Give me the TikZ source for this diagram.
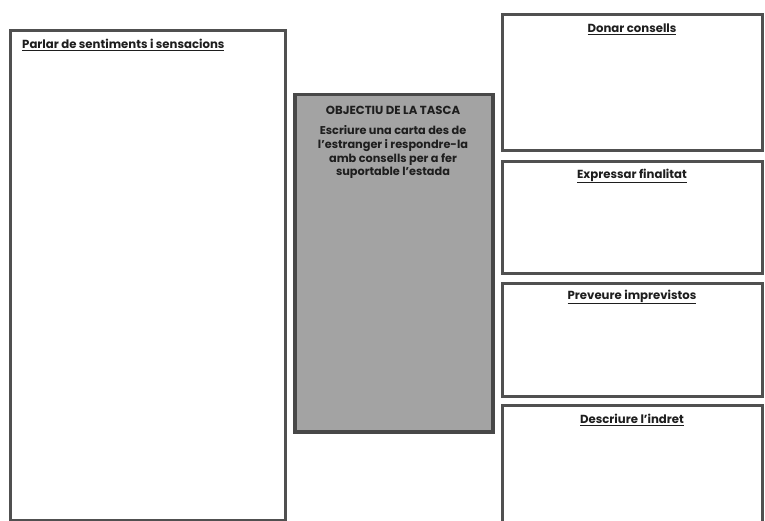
\documentclass[tikz,border=0pt]{standalone}
\usepackage{fontspec}
\setmainfont{Poppins}
\definecolor{edge}{HTML}{505050}
\definecolor{midfill}{HTML}{A3A3A3}
\definecolor{txt}{HTML}{1E1E1E}
\begin{document}
\begin{tikzpicture}[x=1pt,y=-1pt,
  panel/.style={draw=edge,line width=3pt,fill=white,anchor=north west,inner sep=0pt},
  goal/.style={draw=edge!90!black,line width=3.5pt,fill=midfill,anchor=north west,inner sep=0pt},
  head/.style={font=\fontsize{11.7}{13}\selectfont\bfseries,text=txt,inner sep=0pt},
  body/.style={font=\fontsize{11.3}{13.9}\selectfont\bfseries,text=txt,inner sep=0pt,align=center}]
\useasboundingbox (0,0) rectangle (765,521);
% panels
\node[panel,minimum width=275,minimum height=490] (left) at (9,29) {};
\node[goal,minimum width=198,minimum height=337] (mid) at (293,93) {};
\node[panel,minimum width=260,minimum height=136] (r1) at (501,13) {};
\node[panel,minimum width=260,minimum height=112] (r2) at (501,160) {};
\node[panel,minimum width=260,minimum height=113] (r3) at (501,282) {};
\node[panel,minimum width=260,minimum height=140] (r4) at (501,404) {};
% texts
\node[head,anchor=west] (tl) at (22,45) {\underline{Parlar de sentiments i sensacions}};
\node[head] (tm) at (393,110) {OBJECTIU DE LA TASCA};
\node[body,anchor=north] (bm) at (393,125) {Escriure una carta des de\\l'estranger i respondre-la\\amb consells per a fer\\suportable l'estada};
\node[head] (t1) at (632,29) {\underline{Donar consells}};
\node[head] (t2) at (632,176) {\underline{Expressar finalitat}};
\node[head] (t3) at (632,297) {\underline{Preveure imprevistos}};
\node[head] (t4) at (632,420) {\underline{Descriure l'indret}};
\end{tikzpicture}
\end{document}
